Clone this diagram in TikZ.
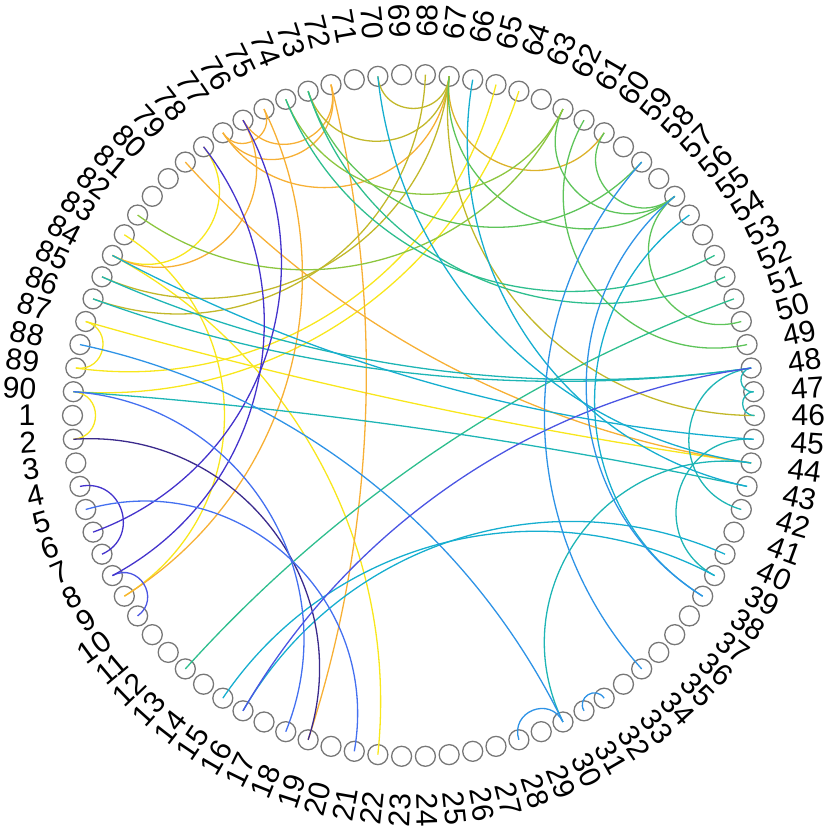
\documentclass[tikz,border=0pt]{standalone}
\usepackage{fontspec}
\setmainfont{Liberation Sans}
\usetikzlibrary{calc}
\definecolor{cpurple}{HTML}{3B2A8C}
\definecolor{cdblue}{HTML}{4433CC}
\definecolor{cblue}{HTML}{4B55E3}
\definecolor{cmblue}{HTML}{4470F0}
\definecolor{clblue}{HTML}{2E93E6}
\definecolor{ccyan}{HTML}{16AECF}
\definecolor{cteal}{HTML}{1EB5B5}
\definecolor{ctgreen}{HTML}{2EBE8E}
\definecolor{cgreen}{HTML}{5EC45A}
\definecolor{cygreen}{HTML}{8CC63F}
\definecolor{colive}{HTML}{C2B82A}
\definecolor{cgold}{HTML}{DCB22A}
\definecolor{corange}{HTML}{F7B035}
\definecolor{cyellow}{HTML}{F8E71C}
\definecolor{cgray}{HTML}{777777}
\tikzset{
  nodecirc/.style={circle,draw=cgray,line width=1.3pt,minimum size=20pt,inner sep=0pt},
  lab/.style={font=\fontsize{30}{30}\selectfont,inner sep=0pt},
  edge/.style={line width=1.3pt}
}
\newcommand\lnk[3]{%
  \pgfmathsetmacro\dd{mod(abs(#1-#2)*4,360)}%
  \pgfmathsetmacro\aa{min(\dd,360-\dd)/2}%
  \pgfmathsetmacro\ab{min(\aa,89.9)}%
  \pgfmathsetmacro\ff{4/3*tan(45-\ab/2)*tan(\ab)}%
  \draw[edge,#3] (n#1.center) .. controls ($(n#1.center)!\ff!(O)$) and ($(n#2.center)!\ff!(O)$) .. (n#2.center);%
}
\begin{document}
\begin{tikzpicture}[x=1pt,y=1pt]
\useasboundingbox (0,0) rectangle (829,832);
\coordinate (O) at (413.5,416.5);
\foreach \k in {1,...,90}{
  \pgfmathsetmacro\ang{180+4*(\k-1)}
  \node[nodecirc] (n\k) at ($(O)+(\ang:341)$) {};
  \pgfmathsetmacro\angm{mod(\ang,360)}
  \ifdim\angm pt>90pt
    \ifdim\angm pt<270pt
      \node[lab,anchor=east,rotate=\ang+180] (l\k) at ($(O)+(\ang:378)$) {\k};
    \else
      \node[lab,anchor=west,rotate=\ang] (l\k) at ($(O)+(\ang:378)$) {\k};
    \fi
  \else
    \node[lab,anchor=west,rotate=\ang] (l\k) at ($(O)+(\ang:378)$) {\k};
  \fi
}
% yellow
\lnk{90}{2}{cyellow}
\lnk{87}{89}{cyellow}
\lnk{78}{84}{cyellow}
\lnk{89}{65}{cyellow}
\lnk{90}{64}{cyellow}
\lnk{22}{84}{cyellow}
\lnk{9}{83}{cyellow}
\lnk{87}{44}{cyellow}
% orange
\lnk{79}{44}{corange}
\lnk{72}{76}{corange}
\lnk{72}{77}{corange}
\lnk{75}{77}{corange}
\lnk{67}{77}{corange}
\lnk{76}{84}{corange}
\lnk{72}{19}{corange}
\lnk{75}{9}{corange}
% olive
\lnk{70}{67}{colive}
\lnk{73}{67}{colive}
\lnk{67}{85}{colive}
\lnk{68}{86}{colive}
\lnk{67}{46}{colive}
\lnk{67}{60}{cgold}
% green
\lnk{60}{56}{cgreen}
\lnk{67}{56}{cgreen}
\lnk{62}{56}{cgreen}
\lnk{56}{50}{cgreen}
\lnk{61}{49}{cgreen}
\lnk{73}{58}{cgreen}
\lnk{62}{82}{cygreen}
\lnk{62}{74}{cygreen}
% teal-green
\lnk{13}{51}{ctgreen}
\lnk{74}{53}{ctgreen}
\lnk{73}{52}{ctgreen}
% teal / cyan
\lnk{44}{30}{cteal}
\lnk{45}{39}{cteal}
\lnk{48}{42}{cteal}
\lnk{48}{47}{cteal}
\lnk{47}{46}{cteal}
\lnk{90}{43}{cteal}
\lnk{85}{48}{cteal}
\lnk{86}{48}{cteal}
\lnk{84}{45}{ccyan}
\lnk{70}{44}{ccyan}
\lnk{66}{43}{ccyan}
\lnk{55}{38}{ccyan}
\lnk{15}{39}{ccyan}
\lnk{16}{40}{ccyan}
% blue
\lnk{2}{19}{cpurple}
\lnk{4}{7}{cdblue}
\lnk{8}{10}{cblue}
\lnk{6}{76}{cdblue}
\lnk{8}{78}{cdblue}
\lnk{5}{21}{cmblue}
\lnk{90}{18}{cmblue}
\lnk{88}{30}{clblue}
\lnk{16}{48}{cblue}
\lnk{28}{30}{clblue}
\lnk{31}{32}{clblue}
\lnk{58}{34}{clblue}
\lnk{56}{38}{clblue}
\end{tikzpicture}
\end{document}
